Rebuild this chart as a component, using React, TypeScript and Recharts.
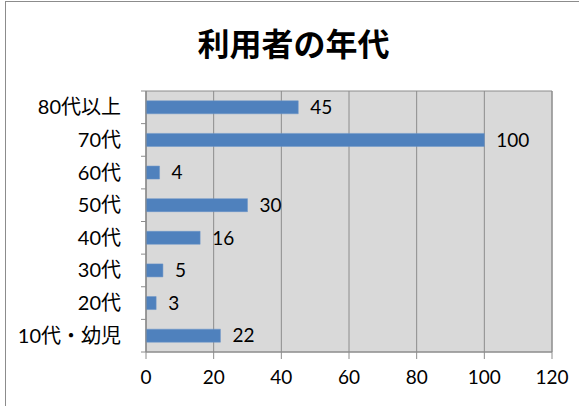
import { BarChart, Bar, XAxis, YAxis, CartesianGrid, LabelList, ReferenceArea } from 'recharts';

const categories = ['80代以上', '70代', '60代', '50代', '40代', '30代', '20代', '10代・幼児'];
const users = [45, 100, 4, 30, 16, 5, 3, 22];
const xTicks = [0, 20, 40, 60, 80, 100, 120];

const data = categories.map((name, i) => ({ name, value: users[i] }));

const FONT = "Lato, 'Noto Sans CJK JP', sans-serif";
const GRID = '#8c8c8c';

function CategoryTick(props: any) {
  const { x, y, payload, index } = props;
  const half = payload && payload.offset ? payload.offset : 16;
  return (
    <g>
      {index === 0 && <line x1={x - 5} x2={x} y1={y - half} y2={y - half} stroke={GRID} />}
      <line x1={x - 5} x2={x} y1={y + half} y2={y + half} stroke={GRID} />
      <text x={x - 25} y={y} dy={7} textAnchor="end" fill="#000" fontSize={20} fontFamily={FONT}>
        {payload.value}
      </text>
    </g>
  );
}

export default function App() {
  return (
    <div style={{ position: 'fixed', left: 0, top: 0, width: 579, height: 406, background: '#fff', overflow: 'hidden' }}>
      <div
        style={{
          position: 'absolute',
          left: 5,
          top: 1,
          width: 600,
          height: 420,
          border: '1px solid #8c8c8c',
        }}
      />
      <div
        style={{
          position: 'absolute',
          left: 0,
          width: 587,
          top: 24,
          textAlign: 'center',
          fontFamily: FONT,
          fontWeight: 700,
          fontSize: 32,
          lineHeight: '40px',
          color: '#000',
        }}
      >
        利用者の年代
      </div>
      <div style={{ position: 'absolute', left: 0, top: 0 }}>
        <BarChart
          width={579}
          height={406}
          data={data}
          layout="vertical"
          barCategoryGap="30%"
          margin={{ top: 91, right: 27, bottom: 0, left: 0 }}
        >
          <CartesianGrid horizontal={false} stroke={GRID} fill="#d9d9d9" />
          <ReferenceArea x1={0} x2={120} fill="none" stroke={GRID} strokeWidth={1} ifOverflow="visible" />
          <XAxis
            type="number"
            domain={[0, 120]}
            ticks={xTicks}
            interval={0}
            stroke={GRID}
            tickSize={7}
            tickMargin={12}
            height={54}
            tick={{ fill: '#000', fontSize: 19, fontFamily: FONT }}
          />
          <YAxis
            type="category"
            dataKey="name"
            width={146}
            stroke={GRID}
            tickLine={false}
            tickSize={0}
            tickMargin={0}
            tick={<CategoryTick />}
            interval={0}
          />
          <Bar dataKey="value" fill="#4f81bd" stroke="#6a95c8" strokeWidth={0.5} isAnimationActive={false}>
            <LabelList dataKey="value" position="right" offset={12} fill="#000" fontSize={19} fontFamily={FONT} />
          </Bar>
        </BarChart>
      </div>
    </div>
  );
}
